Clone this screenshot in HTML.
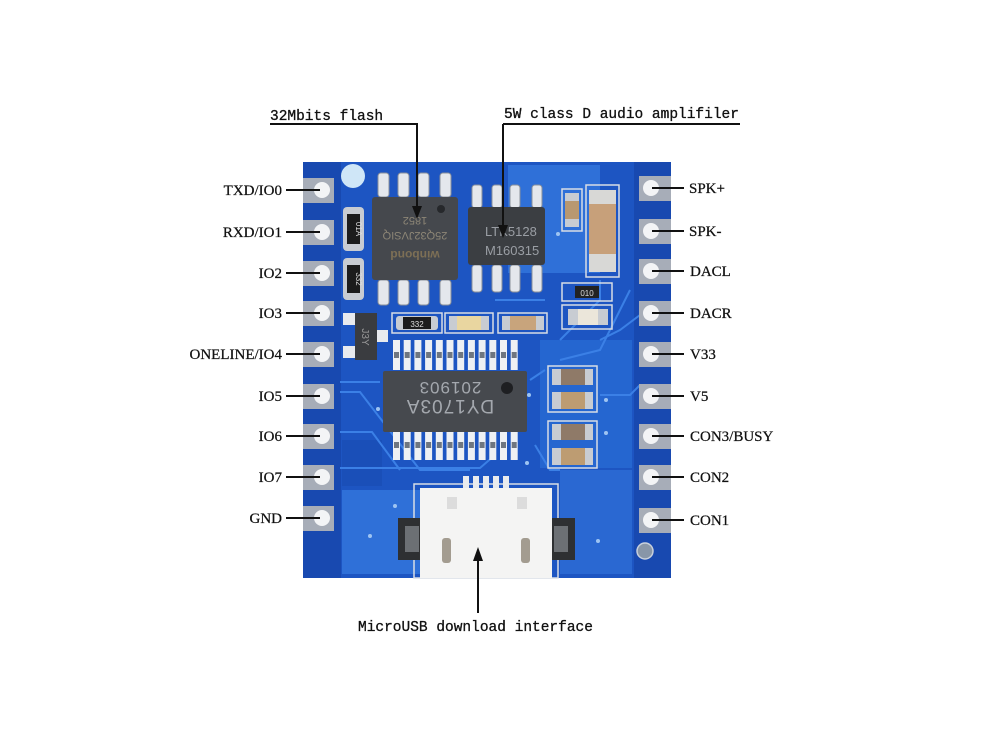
<!DOCTYPE html>
<html><head><meta charset="utf-8"><style>
html,body{margin:0;padding:0;background:#fff;}
svg{display:block;}
.lbl{font-family:"Liberation Serif",serif;font-size:15px;fill:#111;stroke:#111;stroke-width:0.25;}
.mono{font-family:"Liberation Mono",monospace;font-size:14.5px;fill:#111;stroke:#111;stroke-width:0.3;}
</style></head><body>
<svg width="1000" height="741" viewBox="0 0 1000 741" xmlns="http://www.w3.org/2000/svg">
<rect width="1000" height="741" fill="#fff"/>
<!-- board -->
<rect x="303" y="162" width="368" height="416" fill="#1d55c2"/>
<!-- lighter pours -->
<rect x="508" y="165" width="92" height="108" fill="#2f70d8"/>
<rect x="342" y="490" width="78" height="84" fill="#2f70d8"/>
<rect x="560" y="470" width="72" height="104" fill="#2a68d2"/>
<rect x="540" y="340" width="92" height="128" fill="#2566d0"/>
<rect x="342" y="440" width="40" height="46" fill="#1a4fb8"/>
<!-- pad columns darker -->
<rect x="303" y="162" width="38" height="416" fill="#1849b0"/>
<rect x="634" y="162" width="37" height="416" fill="#1849b0"/>
<!-- traces -->
<g stroke="#3b80e6" stroke-width="2" fill="none">
<path d="M340 382 L380 382"/>
<path d="M340 392 L360 392 L420 470 L470 470"/>
<path d="M340 432 L372 432 L400 470"/>
<path d="M340 468 L480 468 L495 455"/>
<path d="M600 395 L630 395 L640 385"/>
<path d="M600 340 L620 330 L640 315"/>
<path d="M560 360 L600 350 L630 290"/>
<path d="M530 380 L545 370"/>
<path d="M495 300 L545 300"/>
<path d="M535 445 L550 470 L560 470"/>
<path d="M440 520 L420 520"/>
<path d="M600 280 L600 300 L560 340"/>
</g>
<!-- left pads -->
<g>
<rect x="303" y="178" width="31" height="25" fill="#a7adb8"/><circle cx="322" cy="190" r="8" fill="#f3f4f6"/>
<rect x="303" y="220" width="31" height="25" fill="#a7adb8"/><circle cx="322" cy="232" r="8" fill="#f3f4f6"/>
<rect x="303" y="261" width="31" height="25" fill="#a7adb8"/><circle cx="322" cy="273" r="8" fill="#f3f4f6"/>
<rect x="303" y="301" width="31" height="25" fill="#a7adb8"/><circle cx="322" cy="313" r="8" fill="#f3f4f6"/>
<rect x="303" y="342" width="31" height="25" fill="#a7adb8"/><circle cx="322" cy="354" r="8" fill="#f3f4f6"/>
<rect x="303" y="384" width="31" height="25" fill="#a7adb8"/><circle cx="322" cy="396" r="8" fill="#f3f4f6"/>
<rect x="303" y="424" width="31" height="25" fill="#a7adb8"/><circle cx="322" cy="436" r="8" fill="#f3f4f6"/>
<rect x="303" y="465" width="31" height="25" fill="#a7adb8"/><circle cx="322" cy="477" r="8" fill="#f3f4f6"/>
<rect x="303" y="506" width="31" height="25" fill="#a7adb8"/><circle cx="322" cy="518" r="8" fill="#f3f4f6"/>
</g>
<!-- right pads -->
<g>
<rect x="639" y="176" width="32" height="25" fill="#a7adb8"/><circle cx="651" cy="188" r="8" fill="#f3f4f6"/>
<rect x="639" y="219" width="32" height="25" fill="#a7adb8"/><circle cx="651" cy="231" r="8" fill="#f3f4f6"/>
<rect x="639" y="259" width="32" height="25" fill="#a7adb8"/><circle cx="651" cy="271" r="8" fill="#f3f4f6"/>
<rect x="639" y="301" width="32" height="25" fill="#a7adb8"/><circle cx="651" cy="313" r="8" fill="#f3f4f6"/>
<rect x="639" y="342" width="32" height="25" fill="#a7adb8"/><circle cx="651" cy="354" r="8" fill="#f3f4f6"/>
<rect x="639" y="384" width="32" height="25" fill="#a7adb8"/><circle cx="651" cy="396" r="8" fill="#f3f4f6"/>
<rect x="639" y="424" width="32" height="25" fill="#a7adb8"/><circle cx="651" cy="436" r="8" fill="#f3f4f6"/>
<rect x="639" y="465" width="32" height="25" fill="#a7adb8"/><circle cx="651" cy="477" r="8" fill="#f3f4f6"/>
<rect x="639" y="508" width="32" height="25" fill="#a7adb8"/><circle cx="651" cy="520" r="8" fill="#f3f4f6"/>
</g>
<circle cx="645" cy="551" r="8" fill="#8896a8" stroke="#c8d0dc" stroke-width="1.5"/>
<circle cx="353" cy="176" r="12" fill="#cfe6f7"/>
<!-- flash pins -->
<g fill="#e4e7ec" stroke="#8a909a" stroke-width="1">
<rect x="378" y="173" width="11" height="24" rx="3"/><rect x="398" y="173" width="11" height="24" rx="3"/><rect x="418" y="173" width="11" height="24" rx="3"/><rect x="440" y="173" width="11" height="24" rx="3"/>
<rect x="378" y="280" width="11" height="25" rx="3"/><rect x="398" y="280" width="11" height="25" rx="3"/><rect x="418" y="280" width="11" height="25" rx="3"/><rect x="440" y="280" width="11" height="25" rx="3"/>
</g>
<!-- flash body -->
<rect x="372" y="197" width="86" height="83" rx="3" fill="#45484d"/>
<circle cx="441" cy="209" r="4" fill="#26282b"/>
<g transform="rotate(180 415 240)" font-family="Liberation Sans,sans-serif" fill="#8d8676">
<text x="415" y="229" text-anchor="middle" font-size="12" font-weight="bold" fill="#7d6f55">winbond</text>
<text x="415" y="248" text-anchor="middle" font-size="11">25Q32JVSIQ</text>
<text x="415" y="263" text-anchor="middle" font-size="11">1852</text>
</g>
<!-- amp pins -->
<g fill="#e4e7ec" stroke="#8a909a" stroke-width="1">
<rect x="472" y="185" width="10" height="23" rx="3"/><rect x="492" y="185" width="10" height="23" rx="3"/><rect x="510" y="185" width="10" height="23" rx="3"/><rect x="532" y="185" width="10" height="23" rx="3"/>
<rect x="472" y="265" width="10" height="27" rx="3"/><rect x="492" y="265" width="10" height="27" rx="3"/><rect x="510" y="265" width="10" height="27" rx="3"/><rect x="532" y="265" width="10" height="27" rx="3"/>
</g>
<rect x="468" y="207" width="77" height="58" rx="3" fill="#3b3e42"/>
<g font-family="Liberation Sans,sans-serif" font-size="13" fill="#9a9ea4">
<text x="485" y="236">LTK5128</text>
<text x="485" y="255">M160315</text>
</g>
<!-- small cap & big cap -->
<rect x="562" y="189" width="20" height="42" fill="none" stroke="#d8dde5" stroke-width="1.5"/>
<rect x="565" y="193" width="14" height="8" fill="#c8ccd2"/><rect x="565" y="201" width="14" height="18" fill="#b89870"/><rect x="565" y="219" width="14" height="8" fill="#c8ccd2"/>
<rect x="586" y="185" width="33" height="92" fill="none" stroke="#d8dde5" stroke-width="1.5"/>
<rect x="589" y="190" width="27" height="14" fill="#d8d8d6"/><rect x="589" y="204" width="27" height="50" fill="#c7a07a"/><rect x="589" y="254" width="27" height="18" fill="#d8d8d6"/>
<!-- 010 resistor and white comp -->
<rect x="562" y="283" width="50" height="18" fill="none" stroke="#d8dde5" stroke-width="1.5"/>
<rect x="575" y="286" width="24" height="12" fill="#222"/><text x="587" y="296" text-anchor="middle" font-family="Liberation Sans,sans-serif" font-size="8" fill="#ddd">010</text>
<rect x="562" y="305" width="50" height="24" fill="none" stroke="#d8dde5" stroke-width="1.5"/>
<rect x="568" y="309" width="10" height="16" fill="#c8ccd2"/><rect x="578" y="309" width="20" height="16" fill="#ebe6da"/><rect x="598" y="309" width="10" height="16" fill="#c8ccd2"/>
<!-- left resistors -->
<rect x="343" y="207" width="21" height="44" rx="4" fill="#c8ccd2"/><rect x="347" y="214" width="13" height="30" fill="#1c1c1c"/>
<text transform="translate(356 229) rotate(90)" text-anchor="middle" font-family="Liberation Sans,sans-serif" font-size="8" fill="#ddd">01A</text>
<rect x="343" y="258" width="21" height="42" rx="4" fill="#c8ccd2"/><rect x="347" y="265" width="13" height="28" fill="#1c1c1c"/>
<text transform="translate(356 279) rotate(90)" text-anchor="middle" font-family="Liberation Sans,sans-serif" font-size="8" fill="#ddd">332</text>
<!-- transistor -->
<rect x="343" y="313" width="12" height="12" fill="#e8eaee"/><rect x="343" y="346" width="12" height="12" fill="#e8eaee"/><rect x="376" y="330" width="12" height="12" fill="#e8eaee"/>
<rect x="355" y="313" width="22" height="47" fill="#3a3c40"/>
<text transform="translate(362 337) rotate(90)" text-anchor="middle" font-family="Liberation Sans,sans-serif" font-size="10" fill="#999">J3Y</text>
<!-- row comps -->
<rect x="392" y="313" width="50" height="20" fill="none" stroke="#d8dde5" stroke-width="1.5"/>
<rect x="396" y="316" width="42" height="14" rx="3" fill="#c8ccd2"/><rect x="403" y="317" width="28" height="12" fill="#1c1c1c"/>
<text x="417" y="327" text-anchor="middle" font-family="Liberation Sans,sans-serif" font-size="8" fill="#ddd">332</text>
<rect x="445" y="313" width="48" height="20" fill="none" stroke="#d8dde5" stroke-width="1.5"/>
<rect x="449" y="316" width="8" height="14" fill="#c8ccd2"/><rect x="457" y="316" width="24" height="14" fill="#e9d6a0"/><rect x="481" y="316" width="8" height="14" fill="#c8ccd2"/>
<rect x="498" y="313" width="49" height="20" fill="none" stroke="#d8dde5" stroke-width="1.5"/>
<rect x="502" y="316" width="8" height="14" fill="#c8ccd2"/><rect x="510" y="316" width="26" height="14" fill="#c8a47c"/><rect x="536" y="316" width="8" height="14" fill="#c8ccd2"/>
<!-- DY1703A pins -->
<g fill="#eef0f3">
<rect x="393" y="340" width="7" height="30"/><rect x="403.7" y="340" width="7" height="30"/><rect x="414.4" y="340" width="7" height="30"/><rect x="425.1" y="340" width="7" height="30"/><rect x="435.8" y="340" width="7" height="30"/><rect x="446.5" y="340" width="7" height="30"/><rect x="457.2" y="340" width="7" height="30"/><rect x="467.9" y="340" width="7" height="30"/><rect x="478.6" y="340" width="7" height="30"/><rect x="489.3" y="340" width="7" height="30"/><rect x="500" y="340" width="7" height="30"/><rect x="510.7" y="340" width="7" height="30"/>
<rect x="393" y="430" width="7" height="30"/><rect x="403.7" y="430" width="7" height="30"/><rect x="414.4" y="430" width="7" height="30"/><rect x="425.1" y="430" width="7" height="30"/><rect x="435.8" y="430" width="7" height="30"/><rect x="446.5" y="430" width="7" height="30"/><rect x="457.2" y="430" width="7" height="30"/><rect x="467.9" y="430" width="7" height="30"/><rect x="478.6" y="430" width="7" height="30"/><rect x="489.3" y="430" width="7" height="30"/><rect x="500" y="430" width="7" height="30"/><rect x="510.7" y="430" width="7" height="30"/>
</g>
<g fill="#6f7680">
<rect x="394" y="352" width="5" height="6"/><rect x="404.7" y="352" width="5" height="6"/><rect x="415.4" y="352" width="5" height="6"/><rect x="426.1" y="352" width="5" height="6"/><rect x="436.8" y="352" width="5" height="6"/><rect x="447.5" y="352" width="5" height="6"/><rect x="458.2" y="352" width="5" height="6"/><rect x="468.9" y="352" width="5" height="6"/><rect x="479.6" y="352" width="5" height="6"/><rect x="490.3" y="352" width="5" height="6"/><rect x="501" y="352" width="5" height="6"/><rect x="511.7" y="352" width="5" height="6"/>
<rect x="394" y="442" width="5" height="6"/><rect x="404.7" y="442" width="5" height="6"/><rect x="415.4" y="442" width="5" height="6"/><rect x="426.1" y="442" width="5" height="6"/><rect x="436.8" y="442" width="5" height="6"/><rect x="447.5" y="442" width="5" height="6"/><rect x="458.2" y="442" width="5" height="6"/><rect x="468.9" y="442" width="5" height="6"/><rect x="479.6" y="442" width="5" height="6"/><rect x="490.3" y="442" width="5" height="6"/><rect x="501" y="442" width="5" height="6"/><rect x="511.7" y="442" width="5" height="6"/>
</g>
<rect x="383" y="371" width="144" height="61" rx="2" fill="#46494e"/>
<circle cx="507" cy="388" r="6" fill="#1e1f22"/>
<g transform="rotate(180 450 400)" font-family="Liberation Sans,sans-serif" fill="#a4a8ae">
<text x="450" y="400" text-anchor="middle" font-size="19" letter-spacing="1">DY1703A</text>
<text x="450" y="418" text-anchor="middle" font-size="17" letter-spacing="1">201903</text>
</g>
<!-- right cap stack -->
<g>
<rect x="548" y="366" width="49" height="46" fill="none" stroke="#d8dde5" stroke-width="1.5"/>
<rect x="552" y="369" width="9" height="16" fill="#c8ccd2"/><rect x="561" y="369" width="24" height="16" fill="#8f7a68"/><rect x="585" y="369" width="8" height="16" fill="#c8ccd2"/>
<rect x="552" y="392" width="9" height="17" fill="#c8ccd2"/><rect x="561" y="392" width="24" height="17" fill="#bd9c72"/><rect x="585" y="392" width="8" height="17" fill="#c8ccd2"/>
<rect x="548" y="421" width="49" height="47" fill="none" stroke="#d8dde5" stroke-width="1.5"/>
<rect x="552" y="424" width="9" height="16" fill="#c8ccd2"/><rect x="561" y="424" width="24" height="16" fill="#8f7a68"/><rect x="585" y="424" width="8" height="16" fill="#c8ccd2"/>
<rect x="552" y="448" width="9" height="17" fill="#c8ccd2"/><rect x="561" y="448" width="24" height="17" fill="#bd9c72"/><rect x="585" y="448" width="8" height="17" fill="#c8ccd2"/>
</g>
<!-- USB -->
<rect x="414" y="484" width="144" height="94" fill="none" stroke="#d8dde5" stroke-width="1.5"/>
<g fill="#e9ebee"><rect x="463" y="476" width="6" height="17"/><rect x="473" y="476" width="6" height="17"/><rect x="483" y="476" width="6" height="17"/><rect x="493" y="476" width="6" height="17"/><rect x="503" y="476" width="6" height="17"/></g>
<rect x="398" y="518" width="29" height="42" fill="#2e3032"/>
<rect x="546" y="518" width="29" height="42" fill="#2e3032"/>
<rect x="405" y="526" width="14" height="26" fill="#6c7074"/><rect x="554" y="526" width="14" height="26" fill="#6c7074"/>
<rect x="420" y="488" width="132" height="90" fill="#f4f4f3"/>
<rect x="447" y="497" width="10" height="12" fill="#dcdcdc"/><rect x="517" y="497" width="10" height="12" fill="#dcdcdc"/>
<rect x="442" y="538" width="9" height="25" rx="3" fill="#a39c90"/>
<rect x="521" y="538" width="9" height="25" rx="3" fill="#a39c90"/>
<!-- vias -->
<g fill="#9ec4f2"><circle cx="395" cy="506" r="2"/><circle cx="370" cy="536" r="2"/><circle cx="598" cy="541" r="2"/><circle cx="529" cy="395" r="2"/><circle cx="606" cy="400" r="2"/><circle cx="606" cy="433" r="2"/><circle cx="558" cy="234" r="2"/><circle cx="378" cy="409" r="2"/><circle cx="527" cy="463" r="2"/></g>
<!-- callouts -->
<g stroke="#111" stroke-width="2" fill="none">
<path d="M270 124 L417 124 L417 208"/>
<path d="M503 124 L740 124"/>
<path d="M503 124 L503 228"/>
<path d="M478 613 L478 558"/>
</g>
<polygon points="412,206 422,206 417,219" fill="#111"/>
<polygon points="498,225 508,225 503,238" fill="#111"/>
<polygon points="473,561 483,561 478,547" fill="#111"/>
<text class="mono" x="270" y="120">32Mbits flash</text>
<text class="mono" x="504" y="118">5W class D audio amplifiler</text>
<text class="mono" x="358" y="631">MicroUSB download interface</text>
<!-- pin label lines -->
<g stroke="#111" stroke-width="2">
<path d="M286 190 L320 190"/><path d="M286 232 L320 232"/><path d="M286 273 L320 273"/><path d="M286 313 L320 313"/><path d="M286 354 L320 354"/><path d="M286 396 L320 396"/><path d="M286 436 L320 436"/><path d="M286 477 L320 477"/><path d="M286 518 L320 518"/>
<path d="M652 188 L684 188"/><path d="M652 231 L684 231"/><path d="M652 271 L684 271"/><path d="M652 313 L684 313"/><path d="M652 354 L684 354"/><path d="M652 396 L684 396"/><path d="M652 436 L684 436"/><path d="M652 477 L684 477"/><path d="M652 520 L684 520"/>
</g>
<g class="lbl" text-anchor="end">
<text x="282" y="195">TXD/IO0</text>
<text x="282" y="237">RXD/IO1</text>
<text x="282" y="278">IO2</text>
<text x="282" y="318">IO3</text>
<text x="282" y="359">ONELINE/IO4</text>
<text x="282" y="401">IO5</text>
<text x="282" y="441">IO6</text>
<text x="282" y="482">IO7</text>
<text x="282" y="523">GND</text>
</g>
<g class="lbl">
<text x="689" y="193">SPK+</text>
<text x="689" y="236">SPK-</text>
<text x="690" y="276">DACL</text>
<text x="690" y="318">DACR</text>
<text x="690" y="359">V33</text>
<text x="690" y="401">V5</text>
<text x="690" y="441">CON3/BUSY</text>
<text x="690" y="482">CON2</text>
<text x="690" y="525">CON1</text>
</g>
</svg>
</body></html>
